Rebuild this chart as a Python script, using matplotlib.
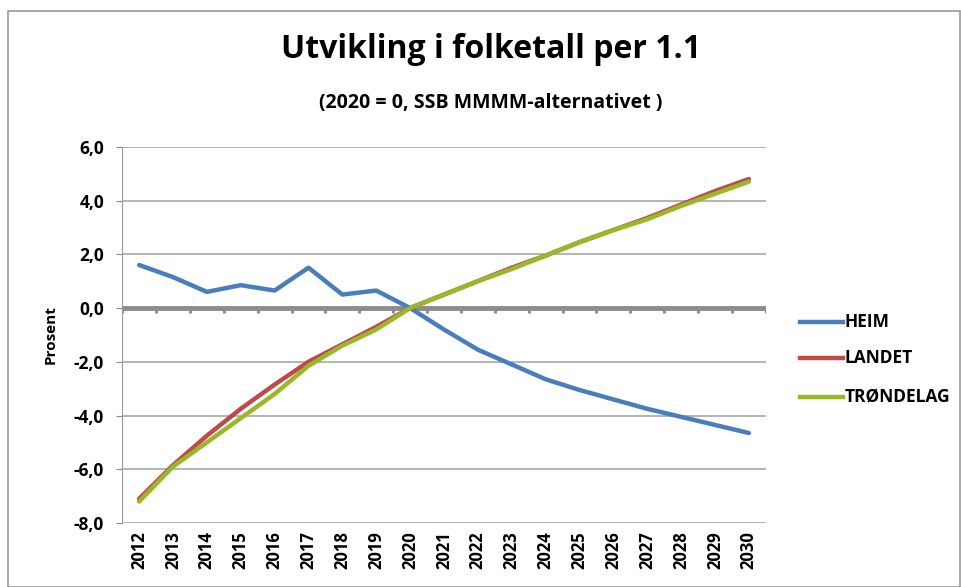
import matplotlib.pyplot as plt
from matplotlib.patches import Rectangle
from matplotlib.lines import Line2D

plt.rcParams['font.family'] = ['Open Sans', 'DejaVu Sans']

years = list(range(2012, 2031))
heim = [1.6, 1.15, 0.6, 0.85, 0.65, 1.5, 0.5, 0.65, 0.0, -0.8, -1.55, -2.1,
        -2.65, -3.05, -3.4, -3.75, -4.05, -4.35, -4.65]
landet = [-7.1, -5.85, -4.75, -3.75, -2.85, -2.0, -1.35, -0.7, 0.0, 0.5, 1.0,
          1.5, 1.95, 2.45, 2.9, 3.35, 3.85, 4.35, 4.8]
trondelag = [-7.2, -5.9, -5.0, -4.1, -3.2, -2.15, -1.4, -0.8, 0.0, 0.5, 1.0,
             1.45, 1.95, 2.45, 2.9, 3.3, 3.8, 4.25, 4.7]
series_names = ["HEIM", "LANDET", "TRØNDELAG"]
colors = ["#4a7ebb", "#be4b48", "#98b829"]
yticks = [-8, -6, -4, -2, 0, 2, 4, 6]

fig = plt.figure(figsize=(9.62, 5.87), dpi=100)
ax = fig.add_axes([0.127, 0.109, 0.669, 0.641])

# outer chart border
fig.patches.append(Rectangle((0.008, 0.0), 0.99, 0.982, transform=fig.transFigure,
                             fill=False, edgecolor="#9a9a9a", lw=1.2))

for y in yticks:
    if y != 0:
        ax.axhline(y, color="#a0a0a0", lw=1.1, zorder=1)

# x axis drawn at y = 0 with category tick marks
ax.axhline(0, color="#8c8c8c", lw=3.5, zorder=2)
for b in range(len(years) + 1):
    xb = years[0] - 0.5 + b
    ax.plot([xb, xb], [0, -0.18], color="#8c8c8c", lw=2.2, zorder=2,
            solid_capstyle="butt")

for vals, c in zip([heim, landet, trondelag], colors):
    ax.plot(years, vals, color=c, lw=3.2, zorder=3, solid_capstyle="round")

ax.set_xlim(years[0] - 0.5, years[-1] + 0.5)
ax.set_ylim(-8, 6)
ax.set_yticks(yticks)
ax.set_yticklabels([f"{v:.1f}".replace(".", ",") for v in yticks],
                   fontsize=12.5, fontweight="bold")
ax.set_xticks(years)
ax.set_xticklabels([str(y) for y in years], rotation=90, fontsize=12,
                   fontweight="bold")
ax.tick_params(axis="x", length=0, pad=6)
ax.tick_params(axis="y", length=4, color="#8c8c8c", pad=9)
for s in ["top", "right", "bottom"]:
    ax.spines[s].set_visible(False)
ax.spines["left"].set_color("#9a9a9a")
ax.set_ylabel("Prosent", fontsize=11, fontweight="bold", labelpad=12)

fig.text(0.51, 0.915, "Utvikling i folketall per 1.1", ha="center", va="center",
         fontsize=23, fontweight="bold")
fig.text(0.51, 0.824, "(2020 = 0, SSB MMMM-alternativet )", ha="center",
         va="center", fontsize=14, fontweight="bold")

# legend
leg_y = [322, 358, 397]
for name, c, py in zip(series_names, colors, leg_y):
    yf = 1 - py / 587
    fig.add_artist(Line2D([800 / 962, 843 / 962], [yf, yf], color=c, lw=3.2,
                          transform=fig.transFigure))
    fig.text(845 / 962, yf, name, ha="left", va="center", fontsize=12.5,
             fontweight="bold")

fig.savefig("out.png", dpi=100)
